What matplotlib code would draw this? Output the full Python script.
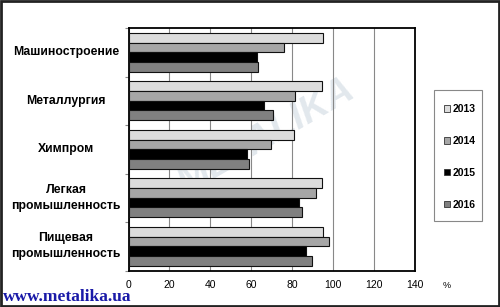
import matplotlib
matplotlib.use("Agg")
import matplotlib.pyplot as plt
import numpy as np
from matplotlib.patches import Rectangle, Patch

categories = ["Машиностроение", "Металлургия", "Химпром",
              "Легкая\nпромышленность", "Пищевая\nпромышленность"]
years = ["2013", "2014", "2015", "2016"]
v2013 = [95.2, 94.8, 81.0, 94.5, 95.0]
v2014 = [76.0, 81.5, 69.6, 92.0, 98.0]
v2015 = [63.0, 66.3, 57.8, 83.6, 86.7]
v2016 = [63.2, 70.9, 58.8, 85.1, 89.9]
xticks = [0, 20, 40, 60, 80, 100, 120, 140]

series = [v2013, v2014, v2015, v2016]
colors = ["#dcdcdc", "#a6a6a6", "#000000", "#808080"]

plt.rcParams['font.family'] = ['Liberation Sans', 'DejaVu Sans']
fig = plt.figure(figsize=(5.0, 3.07), dpi=100)
W, H = 500, 307
ax = fig.add_axes([128.5 / W, 1 - 270.5 / H, (414.5 - 128.5) / W, (270.5 - 28) / H])

n = len(categories)
bh = 0.2
for i, (vals, c) in enumerate(zip(series, colors)):
    y = np.arange(n) + (-0.3 + i * bh)
    ax.barh(y, vals, height=bh, color=c, edgecolor="#111111", linewidth=0.8,
            label=years[i], zorder=3)

ax.set_ylim(n - 0.5, -0.5)
ax.set_xlim(0, 140)
ax.set_xticks(xticks)
ax.set_xticklabels([str(t) for t in xticks], fontsize=7.5)
ax.set_yticks(np.arange(n + 1) - 0.5, minor=False)
ax.set_yticklabels([])
ax.tick_params(axis='y', length=3, direction='out', color="#888888")
ax.tick_params(axis='x', length=0, pad=7)
xc = -(128.5 - 66) / (414.5 - 128.5)
for i, cat in enumerate(categories):
    ax.text(xc, i, cat, transform=ax.get_yaxis_transform(), ha='center',
            va='center', fontsize=8.8, fontweight='bold', linespacing=1.45)

ax.grid(axis='x', color="#888888", linewidth=0.8, zorder=0)
for s in ax.spines.values():
    s.set_linewidth(1.3)
    s.set_color("#000000")

# watermark
ax.text(0.48, 0.55, "METALIKA", transform=ax.transAxes, fontsize=28,
        fontweight='bold', fontstyle='italic', color="#e2e8ed", rotation=30,
        ha='center', va='center', zorder=1)

# legend box
fig.add_artist(Rectangle((434 / W, 1 - 221 / H), 48 / W, 131 / H,
                         transform=fig.transFigure, fill=True, facecolor="white",
                         edgecolor="#888888", linewidth=0.8))
handles = [Patch(facecolor=c, edgecolor="#333333", linewidth=0.6) for c in colors]
leg = fig.legend(handles, years, loc='upper left',
                 bbox_to_anchor=(444 / W, 1 - 104 / H), fontsize=7.5,
                 frameon=False, handlelength=0.6, handleheight=0.6,
                 handletextpad=0.2, labelspacing=2.1, borderpad=0,
                 borderaxespad=0)
for t in leg.get_texts():
    t.set_fontweight('bold')

fig.text(447 / W, 1 - 285 / H, "%", fontsize=6.5, ha='center', va='center')
fig.text(3 / W, 1 - 297 / H, "www.metalika.ua", fontsize=12.5, fontweight='bold',
         family='Liberation Serif', color="#1a1aa8", ha='left', va='center')

fig.add_artist(Rectangle((0.002, 0.003), 0.995, 0.993, transform=fig.transFigure,
                         fill=False, edgecolor="#222222", linewidth=2.0))

fig.savefig("out.png", dpi=100)
